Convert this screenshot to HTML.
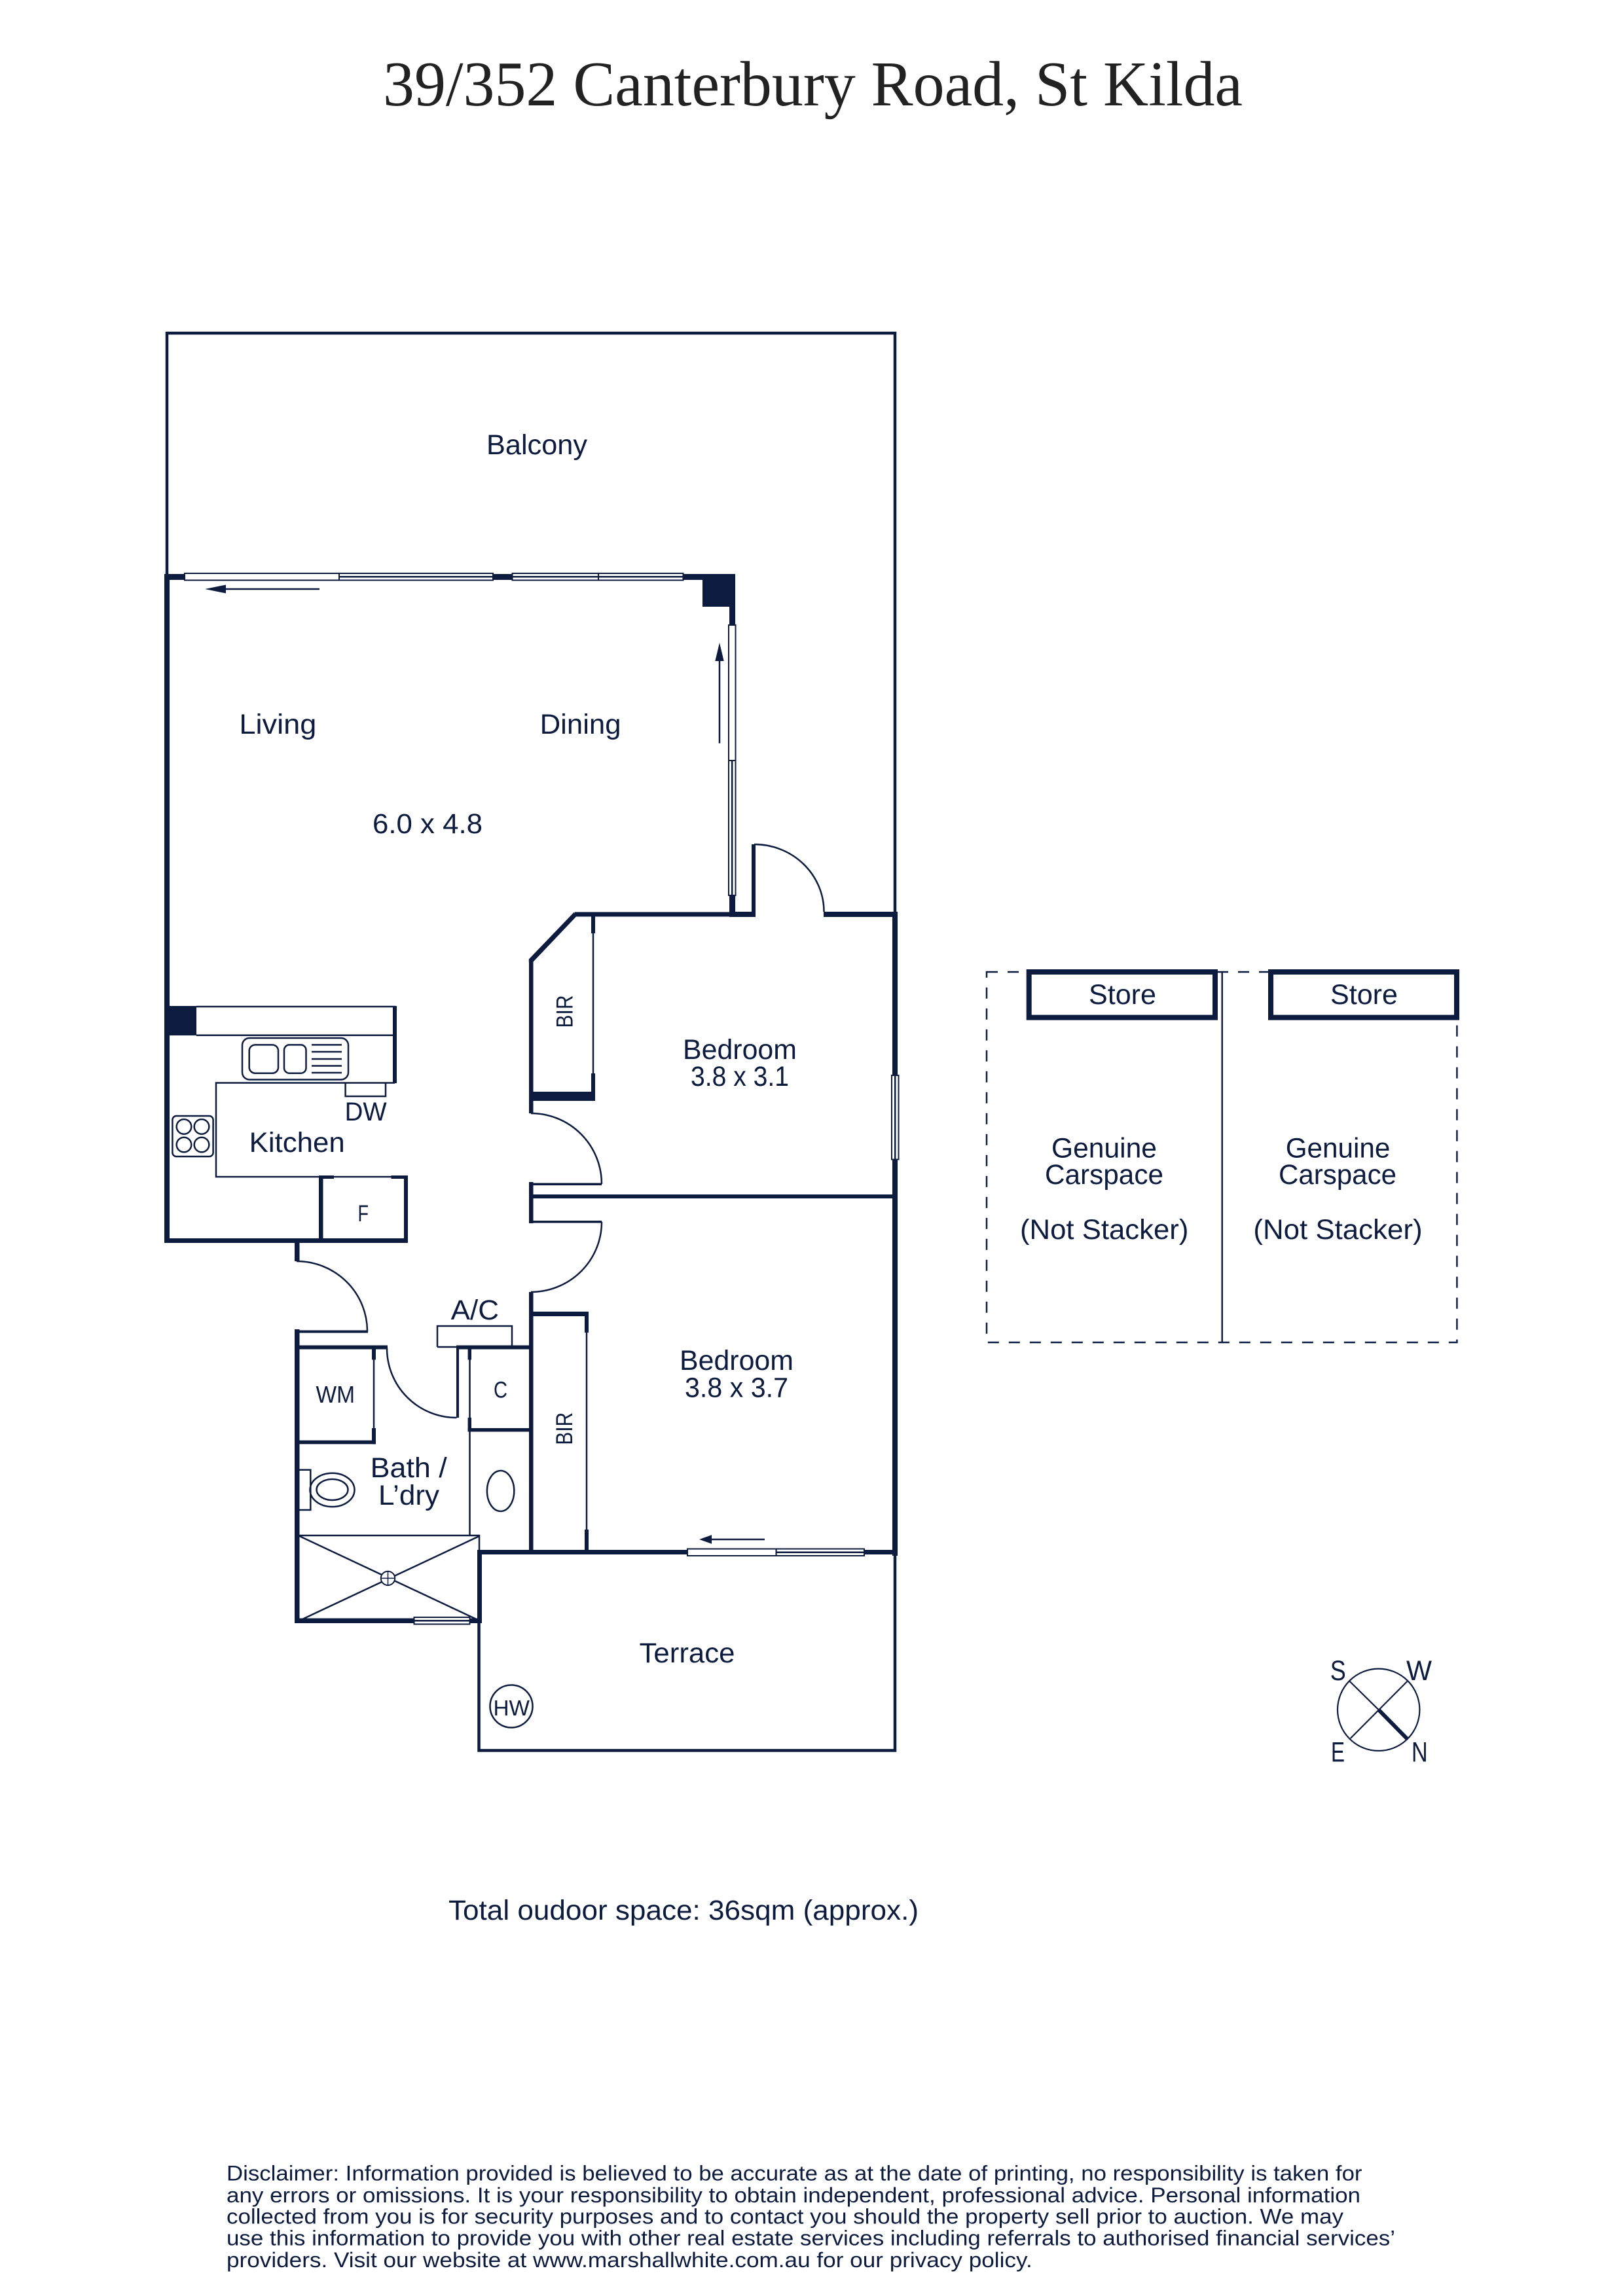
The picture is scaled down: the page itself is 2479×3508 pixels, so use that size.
<!DOCTYPE html>
<html><head><meta charset="utf-8"><title>39/352 Canterbury Road, St Kilda</title>
<style>
html,body{margin:0;padding:0;background:#fff}
svg{display:block}
text{font-family:"Liberation Sans",sans-serif;fill:#0c1b3e;font-size:42.5px}
.t{font-family:"Liberation Serif",serif;fill:#222;font-size:98px}
.d{font-size:32px}
</style></head><body>
<svg xmlns="http://www.w3.org/2000/svg" width="2479" height="3508" viewBox="0 0 2479 3508">
<rect width="2479" height="3508" fill="#fff"/>
<text class="t" x="585" y="161" textLength="1313" lengthAdjust="spacingAndGlyphs">39/352 Canterbury Road, St Kilda</text>

<g fill="none" stroke="#0c1b3e">
<!-- balcony & terrace outlines -->
<path d="M255 880V509H1367V1397" stroke-width="4.5"/>
<path d="M731.500 2375V2674.500H1367V2375" stroke-width="4.500"/>
<!-- thin lines -->
<g stroke-width="2.500">
<path d="M300 1538H604M300 1581.700H600M603 1654.500H330V1798H600"/>
<path d="M906 1420V1645M896 2030V2340M571 2070V2190M717.500 2070V2346"/>
<path d="M457 2346H732V2370"/>
<path d="M527.600 1654.500V1675H589V1654.500"/>
<path d="M668 2058V2026H782V2058H668"/>
<path d="M457.500 2245.700H474.300V2307H457.500"/>
</g>
<!-- door arcs -->
<g stroke-width="2.500">
<path d="M1152 1290A106.500 103 0 0 1 1258.500 1393"/>
<path d="M811 1701A108 108 0 0 1 919 1809"/>
<path d="M919 1866.600A108 107 0 0 1 811 1974"/>
<path d="M453 1927A108 107 0 0 1 561 2034.800"/>
<path d="M591 2060A106 106 0 0 0 697.500 2166"/>
</g>
<!-- shower -->
<path d="M457.500 2347L732 2476M732 2347L457.500 2476" stroke-width="2.500"/>
<circle cx="592.500" cy="2411.400" r="10.700" fill="#fff" stroke-width="2"/>
<path d="M581.800 2411.400H603.200M592.500 2400.700V2422.100" stroke-width="1.500"/>
<!-- toilet & basin -->
<g stroke-width="2.500">
<ellipse cx="507.500" cy="2276.400" rx="34" ry="25.700"/>
<ellipse cx="507.500" cy="2276" rx="24" ry="16"/>
<ellipse cx="764.600" cy="2278" rx="20.700" ry="31"/>
<!-- sink -->
<rect x="370" y="1586" width="162" height="63.500" rx="11"/>
<rect x="380.700" y="1596.400" width="44.300" height="43.300" rx="9"/>
<rect x="434" y="1596.400" width="33.500" height="43.300" rx="8"/>
<path d="M476 1596.400H522M476 1607H522M476 1618H522M476 1628.500H522M476 1639H522"/>
<!-- cooktop -->
<rect x="263.400" y="1705" width="62.200" height="62" rx="6"/>
<circle cx="281" cy="1721.400" r="11.300"/><circle cx="308" cy="1721.400" r="11.300"/>
<circle cx="281" cy="1749" r="11.300"/><circle cx="308" cy="1749" r="11.300"/>
<circle cx="781" cy="2607" r="32.500"/>
</g>
<!-- carspaces -->
<path d="M1507 1485H2225.400V2051H1507Z" stroke-width="2.500" stroke-dasharray="17 15"/>
<path d="M1866.700 1485V2051" stroke-width="2.500"/>
<!-- compass -->
<circle cx="2105.700" cy="2612.300" r="62.700" stroke-width="2.200"/>
<path d="M2061.700 2569L2105.700 2612.300M2149.300 2569L2062.700 2656" stroke-width="2.200"/>
<path d="M2105.700 2612.300L2149.300 2656.700" stroke-width="6"/>
</g>

<!-- walls -->
<g fill="#0c1b3e">
<rect x="251" y="877" width="8" height="1022"/>
<rect x="251" y="877" width="872" height="9"/>
<rect x="1073" y="877" width="50" height="50"/>
<rect x="1114" y="877" width="9" height="78"/>
<rect x="1114" y="1368" width="9" height="32"/>
<rect x="251" y="1537" width="49" height="45"/>
<rect x="600" y="1537" width="6" height="118"/>
<rect x="251" y="1892" width="372" height="7"/>
<rect x="487" y="1796" width="6.500" height="100"/>
<rect x="487" y="1796" width="23" height="5"/>
<rect x="597.500" y="1796" width="25.500" height="5"/>
<rect x="617" y="1796" width="6" height="103"/>
<rect x="1114" y="1393" width="38" height="8"/>
<rect x="1148" y="1290" width="6" height="111"/>
<rect x="1258" y="1393" width="113" height="8"/>
<rect x="1363" y="1393" width="8" height="984"/>
<rect x="878" y="1393.500" width="236" height="7"/>
<path d="M877 1393.500L807.800 1465.500V1470H814L880 1400.500Z"/>
<rect x="808" y="1467" width="6.500" height="234"/>
<rect x="903" y="1397" width="6" height="29"/>
<rect x="903" y="1640" width="6" height="42"/>
<rect x="808" y="1668" width="101" height="14"/>
<rect x="808" y="1806" width="6.500" height="63"/>
<rect x="808" y="1807.500" width="111" height="3.500"/>
<rect x="808" y="1825" width="559" height="6"/>
<rect x="808" y="1865" width="111" height="3.500"/>
<rect x="808" y="1974" width="6.500" height="401"/>
<rect x="811" y="2004" width="88" height="7"/>
<rect x="893" y="2004" width="6" height="32"/>
<rect x="893" y="2337" width="6" height="36"/>
<rect x="729" y="2368" width="642" height="7"/>
<rect x="729" y="2368" width="7" height="112"/>
<rect x="450" y="2472.500" width="286" height="7.500"/>
<rect x="450" y="1896" width="7.500" height="31"/>
<rect x="450" y="2031" width="7.500" height="449"/>
<rect x="450" y="2032.500" width="112" height="4"/>
<rect x="450" y="2055.500" width="142" height="6"/>
<rect x="568" y="2055.500" width="6" height="22"/>
<rect x="568" y="2182" width="6" height="24.400"/>
<rect x="450" y="2200.700" width="124" height="5.700"/>
<rect x="697" y="2055.500" width="112" height="6"/>
<rect x="697" y="2055.500" width="4" height="110.500"/>
<rect x="714.600" y="2055.500" width="5.400" height="22"/>
<rect x="714.600" y="2166" width="5.400" height="21.500"/>
<rect x="714.600" y="2182" width="96" height="5.500"/>
</g>

<!-- windows / sliding doors -->
<g fill="#fff" stroke="#0c1b3e" stroke-width="2">
<rect x="282" y="876" width="236" height="10.500"/>
<rect x="518" y="876" width="235" height="10.500"/>
<rect x="782.500" y="876" width="131.500" height="10.500"/>
<rect x="914" y="876" width="129.500" height="10.500"/>
<rect x="1113" y="955" width="10.500" height="207"/>
<rect x="1113" y="1162" width="10.500" height="206"/>
<rect x="1362" y="1643" width="10.500" height="128.500"/>
<rect x="1050" y="2366.500" width="135.600" height="10.500"/>
<rect x="1185.600" y="2366.500" width="134.400" height="10.500"/>
<rect x="632.500" y="2471" width="85" height="10.500"/>
</g>
<g stroke="#0c1b3e" stroke-width="2.500" fill="none">
<path d="M518 881.200H753M782.500 881.200H1043.500M1118.200 1162V1368M1367.200 1643V1771.500M1185.600 2371.700H1320M632.500 2476.200H717.500"/>
<!-- arrows -->
<path d="M340 900H488M1099 1005V1135.600M1083 2352H1168"/>
</g>
<g fill="#0c1b3e">
<path d="M313 900L345 893.500V906.500Z"/>
<path d="M1099 982L1092.300 1010H1105.700Z"/>
<path d="M1068 2352L1087 2345.300V2358.700Z"/>
</g>

<!-- stores -->
<g fill="#fff" stroke="#0c1b3e" stroke-width="8">
<rect x="1571.700" y="1485" width="284.300" height="69.600"/>
<rect x="1941" y="1485" width="284" height="69.600"/>
</g>

<!-- labels -->
<text x="743" y="694" textLength="154" lengthAdjust="spacingAndGlyphs">Balcony</text>
<text x="365.400" y="1121" textLength="118" lengthAdjust="spacingAndGlyphs">Living</text>
<text x="824.600" y="1121" textLength="124" lengthAdjust="spacingAndGlyphs">Dining</text>
<text x="569" y="1273" textLength="168" lengthAdjust="spacingAndGlyphs">6.0 x 4.8</text>
<text x="1043" y="1618" textLength="174" lengthAdjust="spacingAndGlyphs">Bedroom</text>
<text x="1055" y="1659" textLength="150" lengthAdjust="spacingAndGlyphs">3.8 x 3.1</text>
<text x="1038" y="2093" textLength="174" lengthAdjust="spacingAndGlyphs">Bedroom</text>
<text x="1046" y="2134.500" textLength="158" lengthAdjust="spacingAndGlyphs">3.8 x 3.7</text>
<text x="380.700" y="1760" textLength="146" lengthAdjust="spacingAndGlyphs">Kitchen</text>
<text x="526.600" y="1712" textLength="64" lengthAdjust="spacingAndGlyphs" style="font-size:40px">DW</text>
<text x="546.500" y="1866" textLength="16.500" lengthAdjust="spacingAndGlyphs" style="font-size:35px">F</text>
<text x="688.600" y="2016" textLength="73.400" lengthAdjust="spacingAndGlyphs">A/C</text>
<text x="482.500" y="2143" textLength="59.500" lengthAdjust="spacingAndGlyphs" style="font-size:36px">WM</text>
<text x="754" y="2135.700" textLength="21" lengthAdjust="spacingAndGlyphs" style="font-size:35px">C</text>
<text x="565.700" y="2257" textLength="117" lengthAdjust="spacingAndGlyphs">Bath /</text>
<text x="578" y="2299" textLength="93" lengthAdjust="spacingAndGlyphs">L’dry</text>
<text transform="translate(874.600 1570.500) rotate(-90)" textLength="50" lengthAdjust="spacingAndGlyphs" style="font-size:35px">BIR</text>
<text transform="translate(874 2207.800) rotate(-90)" textLength="50" lengthAdjust="spacingAndGlyphs" style="font-size:35px">BIR</text>
<text x="976.500" y="2540" textLength="146" lengthAdjust="spacingAndGlyphs">Terrace</text>
<text x="753.500" y="2621" textLength="55.500" lengthAdjust="spacingAndGlyphs" style="font-size:33px">HW</text>
<text x="1663" y="1534" textLength="103" lengthAdjust="spacingAndGlyphs">Store</text>
<text x="2032" y="1534" textLength="103" lengthAdjust="spacingAndGlyphs">Store</text>
<text x="1606" y="1768.500" textLength="161" lengthAdjust="spacingAndGlyphs">Genuine</text>
<text x="1596" y="1809" textLength="181" lengthAdjust="spacingAndGlyphs">Carspace</text>
<text x="1558" y="1893" textLength="257.400" lengthAdjust="spacingAndGlyphs">(Not Stacker)</text>
<text x="1963.700" y="1768.500" textLength="159.700" lengthAdjust="spacingAndGlyphs">Genuine</text>
<text x="1953" y="1809" textLength="180" lengthAdjust="spacingAndGlyphs">Carspace</text>
<text x="1914.400" y="1893" textLength="258.200" lengthAdjust="spacingAndGlyphs">(Not Stacker)</text>
<text x="2031.700" y="2567" textLength="24" lengthAdjust="spacingAndGlyphs">S</text>
<text x="2148" y="2567" textLength="39" lengthAdjust="spacingAndGlyphs">W</text>
<text x="2033" y="2691.700" textLength="21" lengthAdjust="spacingAndGlyphs">E</text>
<text x="2156" y="2691.700" textLength="24.700" lengthAdjust="spacingAndGlyphs">N</text>
<text x="685" y="2933" textLength="718" lengthAdjust="spacingAndGlyphs">Total oudoor space: 36sqm (approx.)</text>

<!-- disclaimer -->
<text class="d" x="346" y="3331.700" textLength="1734.500" lengthAdjust="spacingAndGlyphs">Disclaimer: Information provided is believed to be accurate as at the date of printing, no responsibility is taken for</text>
<text class="d" x="346" y="3365" textLength="1732" lengthAdjust="spacingAndGlyphs">any errors or omissions. It is your responsibility to obtain independent, professional advice. Personal information</text>
<text class="d" x="346" y="3397.700" textLength="1706" lengthAdjust="spacingAndGlyphs">collected from you is for security purposes and to contact you should the property sell prior to auction. We may</text>
<text class="d" x="346" y="3430.700" textLength="1785" lengthAdjust="spacingAndGlyphs">use this information to provide you with other real estate services including referrals to authorised financial services’</text>
<text class="d" x="346" y="3464" textLength="1230.700" lengthAdjust="spacingAndGlyphs">providers. Visit our website at www.marshallwhite.com.au for our privacy policy.</text>
</svg>
</body></html>
